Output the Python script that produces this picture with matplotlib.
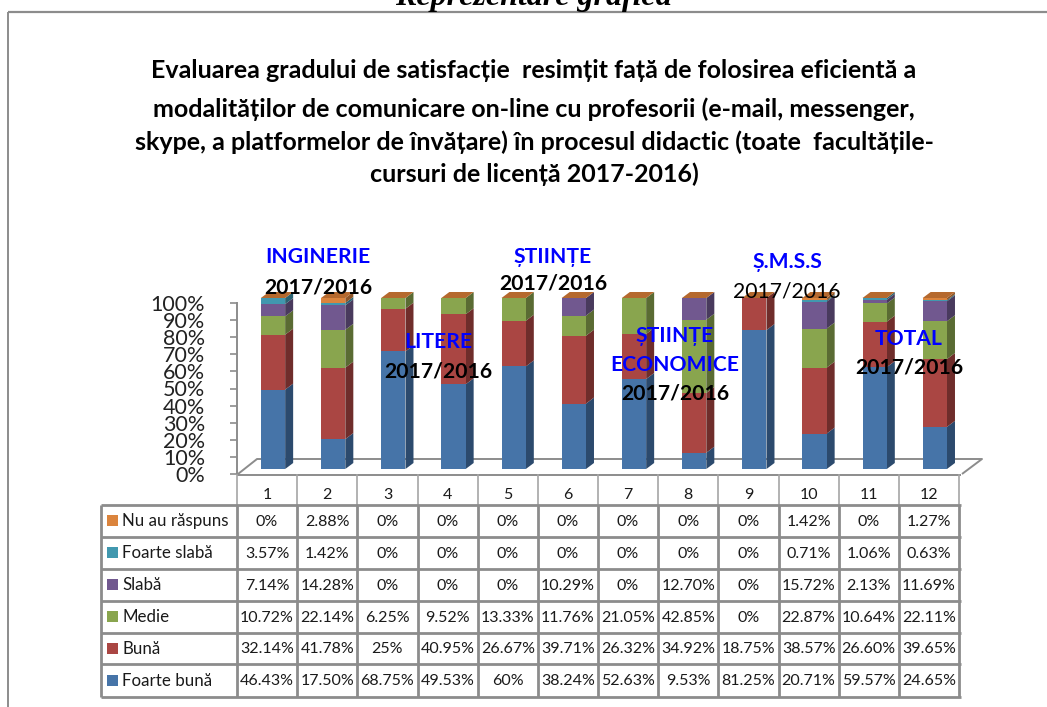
import matplotlib
matplotlib.use("Agg")
import matplotlib.pyplot as plt
from matplotlib.patches import Polygon, Rectangle

W, H = 1047, 707
categories = ["1", "2", "3", "4", "5", "6", "7", "8", "9", "10", "11", "12"]
foarte_buna = [46.43, 17.50, 68.75, 49.53, 60, 38.24, 52.63, 9.53, 81.25, 20.71, 59.57, 24.65]
buna = [32.14, 41.78, 25, 40.95, 26.67, 39.71, 26.32, 34.92, 18.75, 38.57, 26.60, 39.65]
medie = [10.72, 22.14, 6.25, 9.52, 13.33, 11.76, 21.05, 42.85, 0, 22.87, 10.64, 22.11]
slaba = [7.14, 14.28, 0, 0, 0, 10.29, 0, 12.70, 0, 15.72, 2.13, 11.69]
foarte_slaba = [3.57, 1.42, 0, 0, 0, 0, 0, 0, 0, 0.71, 1.06, 0.63]
nu_au = [0, 2.88, 0, 0, 0, 0, 0, 0, 0, 1.42, 0, 1.27]
foarte_buna_txt = ["46.43%", "17.50%", "68.75%", "49.53%", "60%", "38.24%", "52.63%", "9.53%", "81.25%", "20.71%", "59.57%", "24.65%"]
buna_txt = ["32.14%", "41.78%", "25%", "40.95%", "26.67%", "39.71%", "26.32%", "34.92%", "18.75%", "38.57%", "26.60%", "39.65%"]
medie_txt = ["10.72%", "22.14%", "6.25%", "9.52%", "13.33%", "11.76%", "21.05%", "42.85%", "0%", "22.87%", "10.64%", "22.11%"]
slaba_txt = ["7.14%", "14.28%", "0%", "0%", "0%", "10.29%", "0%", "12.70%", "0%", "15.72%", "2.13%", "11.69%"]
foarte_slaba_txt = ["3.57%", "1.42%", "0%", "0%", "0%", "0%", "0%", "0%", "0%", "0.71%", "1.06%", "0.63%"]
nu_au_txt = ["0%", "2.88%", "0%", "0%", "0%", "0%", "0%", "0%", "0%", "1.42%", "0%", "1.27%"]

series_names = ["Foarte bună", "Bună", "Medie", "Slabă", "Foarte slabă", "Nu au răspuns"]
series_vals = [foarte_buna, buna, medie, slaba, foarte_slaba, nu_au]
series_txt = [foarte_buna_txt, buna_txt, medie_txt, slaba_txt, foarte_slaba_txt, nu_au_txt]
front = ["#4674A8", "#AA4643", "#89A54E", "#71588F", "#4198AF", "#DB843D"]
side = ["#2C4A6D", "#6F2D2B", "#5A6B33", "#493A5D", "#2B6372", "#8F5628"]
top_col = ["#4674A8", "#AA4643", "#89A54E", "#71588F", "#4198AF", "#B5692E"]

title_lines = ["Evaluarea gradului de satisfacție  resimțit față de folosirea eficientă a",
               "modalităților de comunicare on-line cu profesorii (e-mail, messenger,",
               "skype, a platformelor de învățare) în procesul didactic (toate  facultățile-",
               "cursuri de licență 2017-2016)"]
title_y = [71, 109, 142, 174]

plt.rcParams["font.family"] = ["Lato", "DejaVu Sans"]
fig = plt.figure(figsize=(W / 100, H / 100), dpi=100, facecolor="white")

def axes_px(x0, y0, x1, y1):
    return fig.add_axes([x0 / W, 1 - y1 / H, (x1 - x0) / W, (y1 - y0) / H])

GRAY = "#8C8C8C"
wall = axes_px(237, 303, 960, 474)
wall.set_xlim(0, 1); wall.set_ylim(0, 100)
wall.patch.set_alpha(0)
for s in ("top", "right", "bottom"):
    wall.spines[s].set_visible(False)
wall.spines["left"].set_color(GRAY); wall.spines["left"].set_linewidth(1.4)
wall.set_xticks([])
wall.set_yticks(range(0, 101, 10))
wall.set_yticklabels([f"{v}%" for v in range(0, 101, 10)], fontsize=15.5, color="#222222")
wall.tick_params(axis="y", length=5, width=1.2, color=GRAY, pad=18)

ax = axes_px(238, 298, 960, 469)
cw = 722 / 12
ax.set_xlim(-35 / cw, 12 - 35 / cw)
ax.set_ylim(0, 100)
ax.axis("off")
bw = 24.3 / cw
dx, dy = 8 / cw, 6 / 1.71
base = [0.0] * 12
xs = list(range(12))
for vals, fc, sc in zip(series_vals, front, side):
    ax.bar(xs, vals, bw, bottom=base, color=fc, linewidth=0, zorder=3)
    for i, (b, v) in enumerate(zip(base, vals)):
        if v > 0:
            r = i + bw / 2
            ax.add_patch(Polygon([(r, b), (r + dx, b + dy), (r + dx, b + v + dy), (r, b + v)],
                                 closed=True, fc=sc, ec="none", zorder=2, clip_on=False))
    base = [b + v for b, v in zip(base, vals)]
for i, t in enumerate(base):
    l = i - bw / 2
    ax.add_patch(Polygon([(l, t), (l + bw, t), (l + bw + dx, t + dy), (l + dx, t + dy)],
                         closed=True, fc=top_col[5], ec="none", zorder=3, clip_on=False))

ov = fig.add_axes([0, 0, 1, 1], zorder=5)
ov.set_xlim(0, W); ov.set_ylim(H, 0); ov.axis("off"); ov.patch.set_alpha(0)
ax.set_zorder(4); wall.set_zorder(3)

ln = dict(color=GRAY, solid_capstyle="butt")
ov.plot([8, 1047], [12, 12], lw=1.6, **ln)
ov.plot([8, 8], [12, 707], lw=1.4, **ln)
flo = fig.add_axes([0, 0, 1, 1], zorder=2)
flo.set_xlim(0, W); flo.set_ylim(H, 0); flo.axis("off")
flo.plot([238, 257, 982, 962], [474, 459, 459, 474], lw=1.4, **ln)

ov.text(533, 5, "Reprezentare grafică", family="Liberation Serif", weight="bold", style="italic",
        fontsize=23, ha="center", va="baseline", color="black")
for t, y in zip(title_lines, title_y):
    ov.text(534, y, t, fontsize=18, weight="bold", ha="center", va="center", color="black")

col_x = [237 + cw * i for i in range(13)]
row_y = [505, 537, 569, 601, 633, 664, 697]
ov.plot([237, 961], [475, 475], lw=1.4, **ln)
for x in col_x:
    ov.plot([x, x], [475, 505], lw=1.2, color="#A6A6A6")
for y in row_y:
    ov.plot([101, 961], [y, y], lw=2.0, **ln)
ov.plot([101, 101], [505, 697], lw=2.0, **ln)
for x in col_x:
    ov.plot([x, x], [505, 697], lw=2.0, **ln)
for i, c in enumerate(categories):
    ov.text(col_x[i] + cw / 2, 495, c, fontsize=11.5, ha="center", va="center", color="#1a1a1a")
for r, k in enumerate(range(5, -1, -1)):
    cy = (row_y[r] + row_y[r + 1]) / 2
    ov.add_patch(Rectangle((107, cy - 6), 11, 11, fc=front[k], ec="none"))
    ov.text(122, cy, series_names[k], fontsize=12.2, ha="left", va="center", color="#1a1a1a")
    for i, t in enumerate(series_txt[k]):
        ov.text(col_x[i] + cw / 2, cy + 0.5, t, fontsize=11.5, ha="center", va="center", color="#1a1a1a")

blue = "#0000FF"
notes = [(318, 257, "INGINERIE", blue, "bold"), (318, 287, "2017/2016", "black", "bold"),
         (438, 342, "LITERE", blue, "bold"), (438, 371, "2017/2016", "black", "bold"),
         (553, 257, "ȘTIINȚE", blue, "bold"), (553, 284, "2017/2016", "black", "bold"),
         (675, 336, "ȘTIINȚE", blue, "bold"), (675, 365, "ECONOMICE", blue, "bold"),
         (675, 394, "2017/2016", "black", "bold"),
         (787, 262, "Ș.M.S.S", blue, "bold"), (787, 291, "2017/2016", "black", "normal"),
         (909, 339, "TOTAL", blue, "bold"), (909, 368, "2017/2016", "black", "bold")]
for x, y, t, c, w in notes:
    ov.text(x, y, t, color=c, weight=w, fontsize=15.2, ha="center", va="center")

fig.savefig("out.png", dpi=100)
